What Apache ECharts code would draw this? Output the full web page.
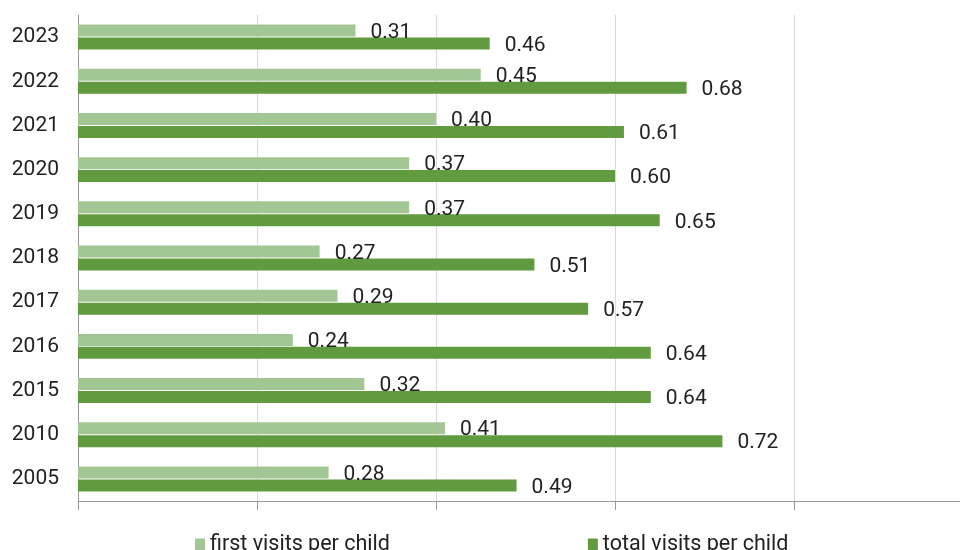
<!DOCTYPE html>
<html>
<head>
    <meta charset="utf-8">
    <title>visits per child</title>
    <script src="https://cdn.jsdelivr.net/npm/echarts@6/dist/echarts.min.js"></script>
</head>
<body style="margin:0">
<div id="main" style="width:960px;height:550px;background:#fff"></div>
<script type="text/javascript">
    var years = ['2005', '2010', '2015', '2016', '2017', '2018', '2019', '2020', '2021', '2022', '2023'];
    var firstVisits = [0.28, 0.41, 0.32, 0.24, 0.29, 0.27, 0.37, 0.37, 0.40, 0.45, 0.31];
    var totalVisits = [0.49, 0.72, 0.64, 0.64, 0.57, 0.51, 0.65, 0.60, 0.61, 0.68, 0.46];

    var chart = echarts.init(document.getElementById('main'));

    var labelStyle = {
        show: true,
        position: 'right',
        distance: 15,
        offset: [0, 2],
        fontFamily: 'Roboto',
        fontSize: 21,
        color: '#222',
        formatter: function (p) { return p.value.toFixed(2); }
    };

    chart.setOption({
        animation: false,
        textStyle: { fontFamily: 'Roboto' },
        grid: { left: 78, right: 0, top: 15, bottom: 49 },
        legend: {
            data: ['first visits per child', 'total visits per child'],
            left: 190,
            top: 529,
            itemWidth: 10,
            itemHeight: 13,
            itemGap: 198,
            icon: 'rect',
            textStyle: { fontSize: 21.5, color: '#222' }
        },
        xAxis: {
            type: 'value',
            min: 0,
            max: 0.9855,
            interval: 0.2,
            axisLabel: { show: false },
            axisLine: { show: true, lineStyle: { color: '#999' } },
            axisTick: { show: true, length: 9, lineStyle: { color: '#999' } },
            splitLine: { lineStyle: { color: '#d9d9d9' } }
        },
        yAxis: {
            type: 'category',
            data: years,
            axisLine: { lineStyle: { color: '#999' } },
            axisTick: { show: false },
            axisLabel: { fontSize: 21, color: '#222', margin: 19 }
        },
        series: [
            {
                name: 'first visits per child',
                type: 'bar',
                data: firstVisits,
                barWidth: 12,
                barGap: '8%',
                itemStyle: { color: '#a3c794' },
                label: labelStyle
            },
            {
                name: 'total visits per child',
                type: 'bar',
                data: totalVisits,
                barWidth: 12,
                barGap: '8%',
                itemStyle: { color: '#629b3f' },
                label: labelStyle
            }
        ]
    });
</script>
</body>
</html>
